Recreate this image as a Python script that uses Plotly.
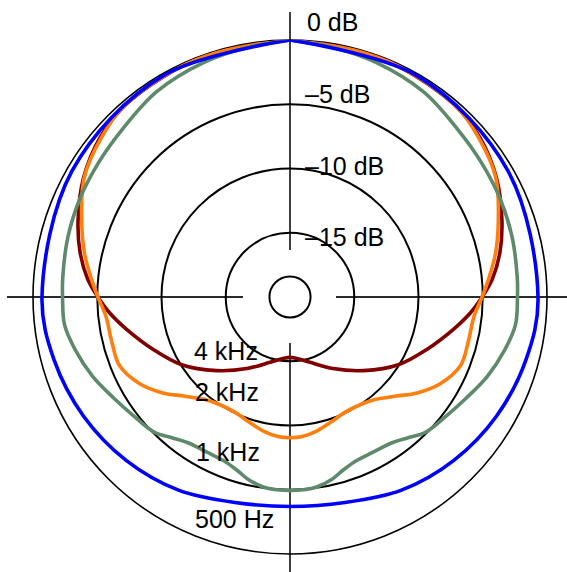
import plotly.graph_objects as go

# Polar response of a microphone, level relative to on-axis (dB).
# Angles are measured from the front (0 deg, top), the pattern is symmetric.
theta_500 = [0, 30, 60, 90, 105, 120, 135, 150, 165, 180]
db_500 = [0, -0.15, -0.4, -0.7, -1.0, -1.45, -2.0, -2.65, -3.45, -3.7]

theta_1k = [0, 10, 20, 33, 45, 55, 65, 75, 85, 90, 97, 104, 112, 120, 127,
            135, 140, 145, 152, 158, 163, 167, 172, 176, 180]
db_1k = [0, -0.3, -0.55, -0.95, -1.55, -1.8, -1.95, -2.1, -2.25, -2.3, -2.32,
         -2.8, -3.45, -4.2, -4.7, -5.1, -5.7, -6.15, -6.3, -6.25, -5.9, -5.45,
         -5.07, -4.97, -4.95]

theta_2k = [0, 20, 40, 50, 60, 70, 78, 85, 90, 96, 104, 112, 120, 127, 133,
            140, 147, 155, 162, 169, 175, 180]
db_2k = [0, -0.1, -0.3, -0.8, -1.5, -2.75, -3.65, -4.5, -5.05, -5.6, -5.7,
         -5.7, -6.5, -7.6, -8.7, -9.6, -10.0, -10.05, -9.75, -9.35, -9.1, -9.05]

theta_4k = [0, 20, 40, 50, 60, 70, 78, 85, 90, 95, 101, 111, 122, 135, 149,
            165, 180]
db_4k = [0, -0.1, -0.3, -0.7, -1.45, -2.45, -3.3, -4.2, -5.05, -5.9, -7.0,
         -8.6, -10.05, -11.9, -13.5, -14.8, -15.3]

series_names = ["4 kHz", "2 kHz", "1 kHz", "500 Hz"]
series_colors = ["#800000", "#ff7f0e", "#5e8a6b", "#0000ff"]

level_labels = ["0 dB", "\u20135 dB", "\u201310 dB", "\u201315 dB"]
ring_levels = [-18.4, -15, -10, -5]

W, H = 567, 572
CX, CY, R = 290, 297, 257


def full_turn(theta, db, start_at_back=False):
    """Mirror a half pattern (0..180 deg) onto the other side."""
    right_t = list(theta)
    right_r = list(db)
    left_t = [360 - t for t in reversed(theta[:-1])]
    left_r = list(reversed(db[:-1]))
    if start_at_back:
        # begin and end at 180 deg so the rear cusp stays sharp
        t = list(reversed(right_t)) + [360 - x for x in theta[1:]]
        r = list(reversed(right_r)) + list(db[1:])
        return t, r
    return right_t + left_t + [360], right_r + left_r + [db[0]]


fig = go.Figure()

curves = [(theta_4k, db_4k, True), (theta_2k, db_2k, False),
          (theta_1k, db_1k, False), (theta_500, db_500, False)]
for (th, db, back), name, col in zip(curves, series_names, series_colors):
    t, r = full_turn(th, db, back)
    fig.add_trace(go.Scatterpolar(
        theta=t, r=r, mode="lines", name=name,
        line=dict(color=col, width=3.6, shape="spline", smoothing=1.0),
        hoverinfo="skip", showlegend=False))

fig.update_layout(
    width=W, height=H,
    margin=dict(l=0, r=0, t=0, b=0),
    paper_bgcolor="white",
    plot_bgcolor="white",
    polar=dict(
        domain=dict(x=[(CX - R) / W, (CX + R) / W],
                    y=[(H - CY - R) / H, (H - CY + R) / H]),
        bgcolor="rgba(0,0,0,0)",
        radialaxis=dict(range=[-20, 0], tickvals=ring_levels,
                        showticklabels=False, ticks="", showline=False,
                        gridcolor="black", gridwidth=1.6,
                        layer="below traces"),
        angularaxis=dict(rotation=90, direction="clockwise",
                         showgrid=False, showticklabels=False, ticks="",
                         showline=True, linecolor="black", linewidth=1.6,
                         layer="below traces"),
    ),
)

# cross-hair through the centre, interrupted around the capsule
cross = dict(type="line", xref="paper", yref="paper", layer="below",
             line=dict(color="#2a2a2a", width=1.8))
py = lambda y: (H - y) / H
px = lambda x: x / W
fig.add_shape(x0=px(7), x1=px(243), y0=py(CY), y1=py(CY), **cross)
fig.add_shape(x0=px(336), x1=px(W), y0=py(CY), y1=py(CY), **cross)
fig.add_shape(x0=px(CX), x1=px(CX), y0=py(12), y1=py(250), **cross)
fig.add_shape(x0=px(CX), x1=px(CX), y0=py(343), y1=py(H), **cross)

font = dict(family="Liberation Sans, Arial, sans-serif", size=25,
            color="black")
level_pos = [(305, 22), (303, 94), (303, 166), (303, 237)]
for txt, (x, y) in zip(level_labels, level_pos):
    fig.add_annotation(x=px(x), y=py(y), xref="paper", yref="paper",
                       text=txt, showarrow=False, xanchor="left",
                       yanchor="middle", font=font)

freq_pos = [(192, 351), (193, 392), (194, 452), (193, 519)]
for txt, (x, y) in zip(series_names, freq_pos):
    fig.add_annotation(x=px(x), y=py(y), xref="paper", yref="paper",
                       text=txt, showarrow=False, xanchor="left",
                       yanchor="middle", font=font)

fig.write_html("out.html")
